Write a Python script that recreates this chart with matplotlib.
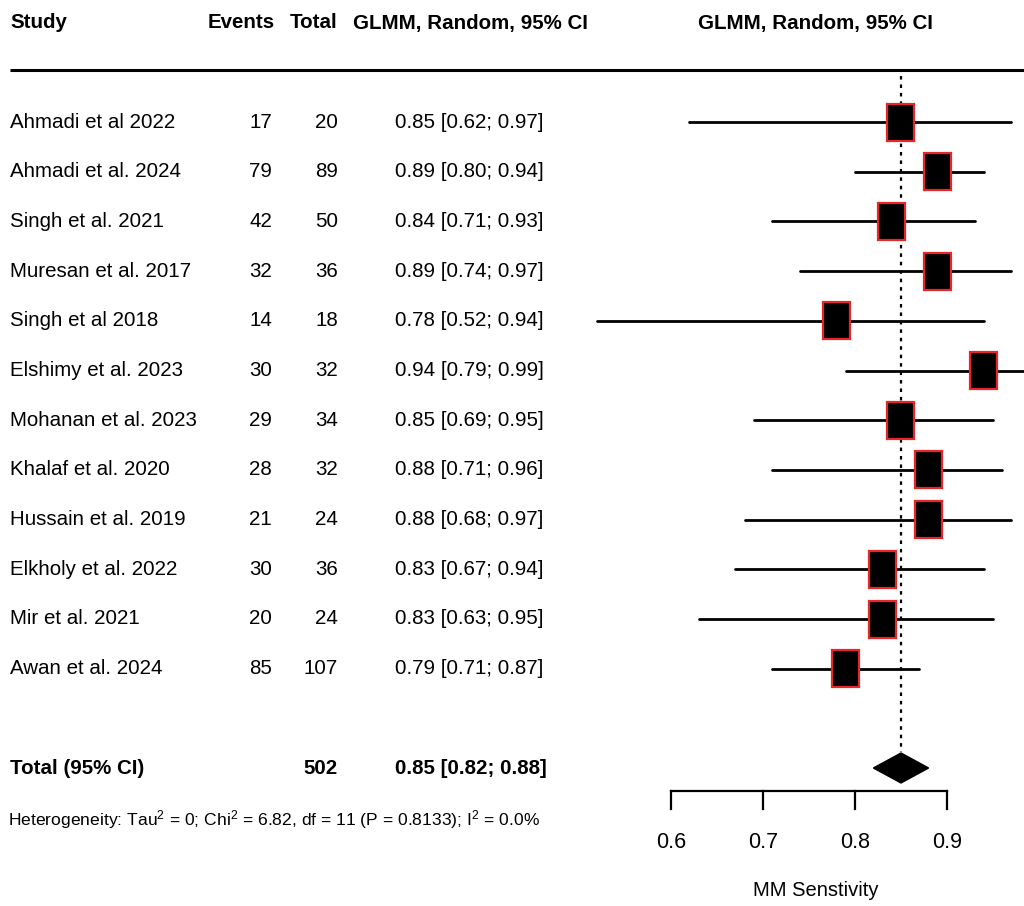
import matplotlib
matplotlib.use("Agg")
import matplotlib.pyplot as plt
from matplotlib.patches import Rectangle, Polygon

plt.rcParams['font.family'] = ['Liberation Sans', 'DejaVu Sans']
plt.rcParams['mathtext.default'] = 'regular'

studies = ["Ahmadi et al 2022", "Ahmadi et al. 2024", "Singh et al. 2021",
           "Muresan et al. 2017", "Singh et al 2018", "Elshimy et al. 2023",
           "Mohanan et al. 2023", "Khalaf et al. 2020", "Hussain et al. 2019",
           "Elkholy et al. 2022", "Mir et al. 2021", "Awan et al. 2024"]
events = [17, 79, 42, 32, 14, 30, 29, 28, 21, 30, 20, 85]
totals = [20, 89, 50, 36, 18, 32, 34, 32, 24, 36, 24, 107]
est = [0.85, 0.89, 0.84, 0.89, 0.78, 0.94, 0.85, 0.88, 0.88, 0.83, 0.83, 0.79]
lower = [0.62, 0.80, 0.71, 0.74, 0.52, 0.79, 0.69, 0.71, 0.68, 0.67, 0.63, 0.71]
upper = [0.97, 0.94, 0.93, 0.97, 0.94, 0.99, 0.95, 0.96, 0.97, 0.94, 0.95, 0.87]

pooled = 0.85
pooled_lo = 0.82
pooled_hi = 0.88
pooled_n = 502
het_text = r"Heterogeneity: Tau$^2$ = 0; Chi$^2$ = 6.82, df = 11 (P = 0.8133); I$^2$ = 0.0%"
xticks = [0.6, 0.7, 0.8, 0.9]
xlabel = "MM Senstivity"

W, H = 1024, 906
fig = plt.figure(figsize=(W / 100, H / 100), dpi=100)

# one axes over the whole canvas: x in proportion units, y in pixel rows
ax = fig.add_axes([0, 0, 1, 1])
px_per_unit = 920.0
x0 = 671.0
ax.set_xlim(0.6 - x0 / px_per_unit, 0.6 + (W - x0) / px_per_unit)
ax.set_ylim(H, 0)
ax.axis("off")


def fx(p):
    return p / W


def fy(p):
    return 1 - p / H


fs = 14.8
hdr_y = 23
for label, x, ha in [("Study", 10, "left"), ("Events", 275, "right"),
                     ("Total", 338, "right"), ("GLMM, Random, 95% CI", 353, "left"),
                     ("GLMM, Random, 95% CI", 815, "center")]:
    fig.text(fx(x), fy(hdr_y), label, ha=ha, va="center", fontsize=fs, fontweight="bold")

# rule under the header
ax.plot([ax.get_xlim()[0] + 10 / px_per_unit, ax.get_xlim()[1]], [70, 70],
        color="black", lw=2.2, solid_capstyle="butt")

row0, step = 122, 49.7
rows = [row0 + step * i for i in range(len(studies))]

for i, y in enumerate(rows):
    fig.text(fx(10), fy(y), studies[i], ha="left", va="center", fontsize=fs)
    fig.text(fx(272), fy(y), str(events[i]), ha="right", va="center", fontsize=fs)
    fig.text(fx(338), fy(y), str(totals[i]), ha="right", va="center", fontsize=fs)
    fig.text(fx(395), fy(y), f"{est[i]:.2f} [{lower[i]:.2f}; {upper[i]:.2f}]",
             ha="left", va="center", fontsize=fs)

# pooled estimate reference line
ax.plot([pooled, pooled], [76, 752], color="black", lw=1.6, ls=(0, (1.6, 2.2)))

sq_w = 27 / px_per_unit
sq_h = 37
for i, y in enumerate(rows):
    ax.plot([lower[i], upper[i]], [y, y], color="black", lw=2.0, solid_capstyle="round")
    ax.add_patch(Rectangle((est[i] - sq_w / 2, y - sq_h / 2), sq_w, sq_h,
                           facecolor="black", edgecolor="#e8262a", lw=1.6, zorder=3))

# total row
tot_y = 768
fig.text(fx(10), fy(tot_y), "Total (95% CI)", ha="left", va="center", fontsize=fs, fontweight="bold")
fig.text(fx(338), fy(tot_y), str(pooled_n), ha="right", va="center", fontsize=fs, fontweight="bold")
fig.text(fx(395), fy(tot_y), f"{pooled:.2f} [{pooled_lo:.2f}; {pooled_hi:.2f}]",
         ha="left", va="center", fontsize=fs, fontweight="bold")
ax.add_patch(Polygon([(pooled_lo, tot_y), (pooled, tot_y - 15), (pooled_hi, tot_y),
                      (pooled, tot_y + 15)], closed=True, facecolor="black",
                     edgecolor="black", lw=1))

fig.text(fx(8), fy(820), het_text, ha="left", va="center", fontsize=12.6)

# bottom axis, drawn R style between the outer ticks
axis_y, tick_len = 791, 18
ax.plot([xticks[0], xticks[-1]], [axis_y, axis_y], color="black", lw=1.6)
for t in xticks:
    ax.plot([t, t], [axis_y, axis_y + tick_len], color="black", lw=1.6)
    ax.text(t, 843, f"{t:.1f}", ha="center", va="center", fontsize=15.5)
ax.text(0.6 + (816 - x0) / px_per_unit, 891, xlabel, ha="center", va="center", fontsize=14.5)

fig.savefig("out.png", dpi=100, facecolor="white")
